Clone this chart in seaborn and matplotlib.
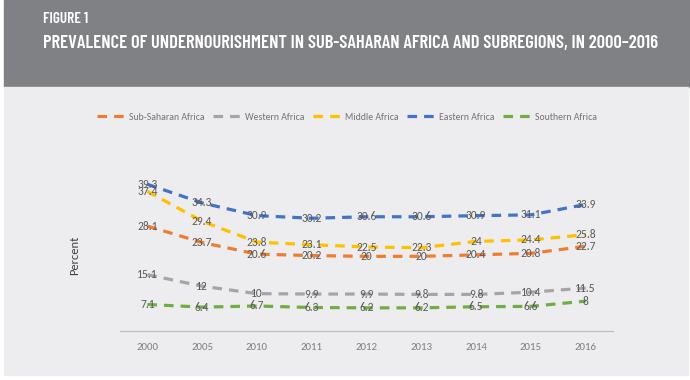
import seaborn as sns
import matplotlib.pyplot as plt
import pandas as pd
from matplotlib.patches import Rectangle
from matplotlib.lines import Line2D

# Values
years = ["2000", "2005", "2010", "2011", "2012", "2013", "2014", "2015", "2016"]
regions = ["Sub-Saharan Africa", "Western Africa", "Middle Africa",
           "Eastern Africa", "Southern Africa"]
sub_saharan = [28.1, 23.7, 20.6, 20.2, 20, 20, 20.4, 20.8, 22.7]
western = [15.1, 12, 10, 9.9, 9.9, 9.8, 9.8, 10.4, 11.5]
middle = [37.4, 29.4, 23.8, 23.1, 22.5, 22.3, 24, 24.4, 25.8]
eastern = [39.3, 34.3, 30.9, 30.2, 30.6, 30.6, 30.9, 31.1, 33.9]
southern = [7.1, 6.4, 6.7, 6.3, 6.2, 6.2, 6.5, 6.6, 8]

colors = ["#ED7D31", "#A5A5A5", "#FFC000", "#4472C4", "#70AD47"]

# long table for seaborn
series = [sub_saharan, western, middle, eastern, southern]
rows = []
for name, vals in zip(regions, series):
    for i, (yr, v) in enumerate(zip(years, vals)):
        rows.append({"pos": i, "year": yr, "region": name, "value": v})
df = pd.DataFrame(rows)

sns.set_style("white")
plt.rcParams["font.family"] = ["Carlito", "Open Sans", "DejaVu Sans"]
title_font = ["Barlow Condensed", "Liberation Sans Narrow", "DejaVu Sans"]

fig = plt.figure(figsize=(6.9, 3.8), dpi=100)
fig.patch.set_facecolor("white")

# header band and light panel
fig.patches.append(Rectangle((0.006, 1 - 87 / 380), 0.994, 87 / 380,
                             transform=fig.transFigure, color="#808184", zorder=-5))
fig.patches.append(Rectangle((0.006, 5 / 380), 0.991, (380 - 92) / 380,
                             transform=fig.transFigure, color="#EDEDEF", zorder=-5))

fig.text(43 / 690, 1 - 19 / 380, "FIGURE 1", color="white", fontsize=11,
         fontweight="semibold", family=title_font, va="center")
t = fig.text(43 / 690, 1 - 43 / 380,
             "PREVALENCE OF UNDERNOURISHMENT IN SUB-SAHARAN AFRICA AND SUBREGIONS, IN 2000\u20132016",
             color="white", fontsize=15, fontweight="semibold",
             family=title_font, va="center")
# shrink the title until it fits the band width of the reference
r = fig.canvas.get_renderer()
w = t.get_window_extent(r).width
if w > 614:
    t.set_fontsize(15 * 614 / w)

ax = fig.add_axes([120 / 690, 1 - 331 / 380, (613 - 120) / 690, 168 / 380])
ax.set_facecolor("none")

sns.lineplot(data=df, x="pos", y="value", hue="region", style="region",
             hue_order=regions, style_order=regions,
             palette=dict(zip(regions, colors)),
             dashes={r_: (3, 2.2) for r_ in regions},
             linewidth=2.3, legend=False, ax=ax)

for name, vals in zip(regions, series):
    for i, v in enumerate(vals):
        ax.text(i, v, f"{v:g}", ha="center", va="center", fontsize=8.3,
                color="#595959", zorder=5)

ax.set_xlim(-0.5, 8.5)
ax.set_ylim(0, 45)
ax.set_xticks(range(len(years)))
ax.set_xticklabels(years, fontsize=7.8, color="#7F7F7F")
ax.set_yticks([])
ax.tick_params(axis="x", length=0, pad=9)
ax.set_xlabel("")
ax.set_ylabel("")
for s in ["top", "left", "right"]:
    ax.spines[s].set_visible(False)
ax.spines["bottom"].set_color("#BFBFBF")
ax.spines["bottom"].set_linewidth(0.9)

fig.text(75 / 690, 1 - 255 / 380, "Percent", rotation=90, fontsize=9,
         color="#404040", ha="center", va="center")

handles = [Line2D([0], [0], color=c, lw=2.3, dashes=(3, 2.2)) for c in colors]
fig.legend(handles, regions, loc="center", bbox_to_anchor=(347 / 690, 1 - 117 / 380),
           ncol=5, frameon=False, fontsize=7, labelcolor="#767171",
           handlelength=2.9, columnspacing=0.9, handletextpad=0.35)

fig.savefig("out.png", dpi=100)
